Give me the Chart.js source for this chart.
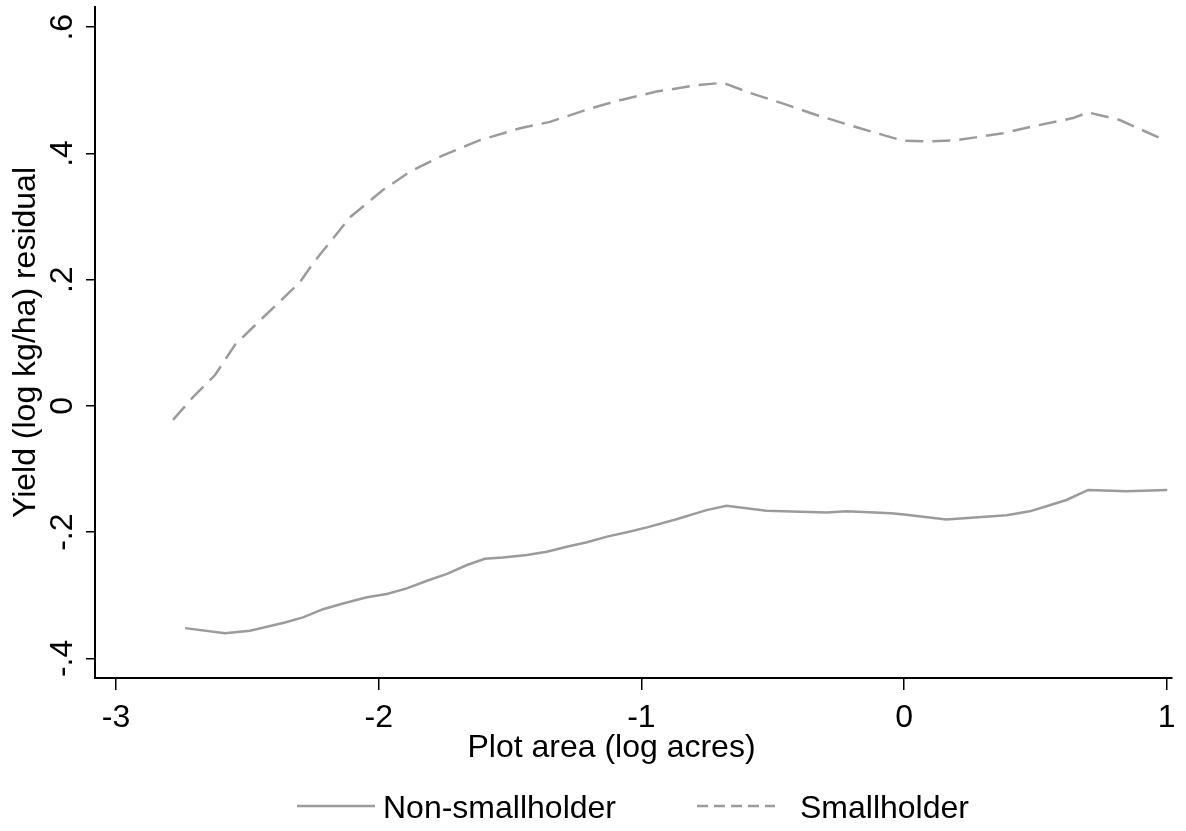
<!DOCTYPE html>
<html>
<head>
<meta charset="utf-8">
<script src="https://cdn.jsdelivr.net/npm/chart.js@4.4.1/dist/chart.umd.min.js"></script>
<style>
  html, body { margin: 0; padding: 0; background: #fff; }
  #wrap { width: 1186px; height: 831px; }
</style>
</head>
<body>
<div id="wrap"><canvas id="c" width="1186" height="831"></canvas></div>
<script>
// ---- data ----
const seriesNames = ["Non-smallholder", "Smallholder"];
const xTicks = [-3, -2, -1, 0, 1];
const xTickLabels = ["-3", "-2", "-1", "0", "1"];
const yTicks = [-0.4, -0.2, 0, 0.2, 0.4, 0.6];
const yTickLabels = ["-.4", "-.2", "0", ".2", ".4", ".6"];
const xTitle = "Plot area (log acres)";
const yTitle = "Yield (log kg/ha) residual";

const nonSmallX = [-2.737, -2.585, -2.49, -2.357, -2.288, -2.212, -2.136, -2.045, -1.969, -1.893, -1.816, -1.740, -1.664, -1.596, -1.527, -1.436, -1.360, -1.284, -1.207, -1.131, -1.055, -0.975, -0.87, -0.752, -0.676, -0.524, -0.295, -0.219, -0.05, 0.0, 0.161, 0.390, 0.478, 0.542, 0.618, 0.701, 0.846, 1.002];
const nonSmallY = [-0.352, -0.360, -0.356, -0.343, -0.335, -0.322, -0.313, -0.303, -0.298, -0.289, -0.277, -0.266, -0.252, -0.242, -0.240, -0.236, -0.231, -0.223, -0.216, -0.207, -0.200, -0.192, -0.180, -0.165, -0.158, -0.166, -0.169, -0.167, -0.170, -0.172, -0.180, -0.173, -0.167, -0.159, -0.149, -0.133, -0.135, -0.133];

const smallX = [-2.783, -2.707, -2.623, -2.547, -2.463, -2.30, -2.25, -2.109, -1.984, -1.881, -1.755, -1.615, -1.462, -1.348, -1.196, -1.094, -0.942, -0.790, -0.689, -0.587, -0.460, -0.334, -0.168, -0.003, 0.098, 0.199, 0.377, 0.491, 0.643, 0.700, 0.821, 0.998];
const smallY = [-0.022, 0.014, 0.049, 0.097, 0.131, 0.196, 0.226, 0.299, 0.342, 0.371, 0.397, 0.421, 0.440, 0.450, 0.471, 0.483, 0.498, 0.508, 0.512, 0.496, 0.479, 0.461, 0.440, 0.420, 0.419, 0.421, 0.432, 0.443, 0.456, 0.465, 0.453, 0.420];

// ---- styling ----
const FONT = '"Liberation Sans", Arial, Helvetica, sans-serif';
const FS = 32;
const LINE_COLOR = '#9b9b9b';
const DASH = [18, 9];
const LEGEND_DASH = [11, 6];

function pts(xs, ys) { return xs.map((x, i) => ({ x: x, y: ys[i] })); }

const textPlugin = {
  id: 'stataText',
  afterDraw(chart) {
    const ctx = chart.ctx;
    const xs = chart.scales.x, ys = chart.scales.y;
    const area = chart.chartArea;
    ctx.save();
    ctx.fillStyle = '#000';
    ctx.font = FS + 'px ' + FONT;
    // y tick labels (rotated)
    yTicks.forEach((v, i) => {
      const py = ys.getPixelForValue(v);
      ctx.save();
      ctx.translate(area.left - 23, py);
      ctx.rotate(-Math.PI / 2);
      ctx.textAlign = 'center';
      ctx.textBaseline = 'alphabetic';
      ctx.fillText(yTickLabels[i], 0, 0);
      ctx.restore();
    });
    // y title
    ctx.save();
    ctx.translate(35, (area.top + area.bottom) / 2);
    ctx.rotate(-Math.PI / 2);
    ctx.textAlign = 'center';
    ctx.textBaseline = 'alphabetic';
    ctx.fillText(yTitle, 0, 0);
    ctx.restore();
    // x tick labels
    ctx.textAlign = 'center';
    ctx.textBaseline = 'alphabetic';
    xTicks.forEach((v, i) => {
      ctx.fillText(xTickLabels[i], xs.getPixelForValue(v), area.bottom + 49);
    });
    // x title
    ctx.fillText(xTitle, (area.left + area.right) / 2 - 22, area.bottom + 79);
    // legend
    const ly = 806, ty = 818;
    const items = [
      { x0: 297, x1: 375, tx: 383, dash: [] },
      { x0: 697, x1: 775, tx: 800, dash: LEGEND_DASH }
    ];
    items.forEach((it, i) => {
      ctx.save();
      ctx.strokeStyle = LINE_COLOR;
      ctx.lineWidth = 2.5;
      ctx.setLineDash(it.dash);
      ctx.beginPath();
      ctx.moveTo(it.x0, ly);
      ctx.lineTo(it.x1, ly);
      ctx.stroke();
      ctx.restore();
      ctx.textAlign = 'left';
      ctx.fillText(seriesNames[i], it.tx, ty);
    });
    ctx.restore();
  }
};

new Chart(document.getElementById('c'), {
  type: 'line',
  data: {
    datasets: [
      {
        label: seriesNames[0],
        data: pts(nonSmallX, nonSmallY),
        borderColor: LINE_COLOR,
        borderWidth: 2.5,
        pointRadius: 0,
        tension: 0,
        fill: false
      },
      {
        label: seriesNames[1],
        data: pts(smallX, smallY),
        borderColor: LINE_COLOR,
        borderWidth: 2.5,
        borderDash: DASH,
        pointRadius: 0,
        tension: 0,
        fill: false
      }
    ]
  },
  options: {
    responsive: false,
    animation: false,
    devicePixelRatio: 1,
    layout: { padding: { top: 7, right: 14, left: 0, bottom: 0 } },
    plugins: { legend: { display: false }, tooltip: { enabled: false } },
    scales: {
      x: {
        type: 'linear',
        min: -3.08,
        max: 1.02,
        afterBuildTicks(scale) { scale.ticks = xTicks.map(v => ({ value: v })); },
        afterFit(scale) { scale.height = 153; },
        ticks: { display: false },
        grid: { display: true, drawOnChartArea: false, drawTicks: true, tickLength: 12, color: '#000', lineWidth: 1.5 },
        border: { display: true, color: '#000', width: 2 }
      },
      y: {
        type: 'linear',
        min: -0.431,
        max: 0.632,
        afterBuildTicks(scale) { scale.ticks = yTicks.map(v => ({ value: v })); },
        afterFit(scale) { scale.width = 95; },
        ticks: { display: false },
        grid: { display: true, drawOnChartArea: false, drawTicks: true, tickLength: 9, color: '#000', lineWidth: 1.5 },
        border: { display: true, color: '#000', width: 2 }
      }
    }
  },
  plugins: [textPlugin]
});
</script>
</body>
</html>
